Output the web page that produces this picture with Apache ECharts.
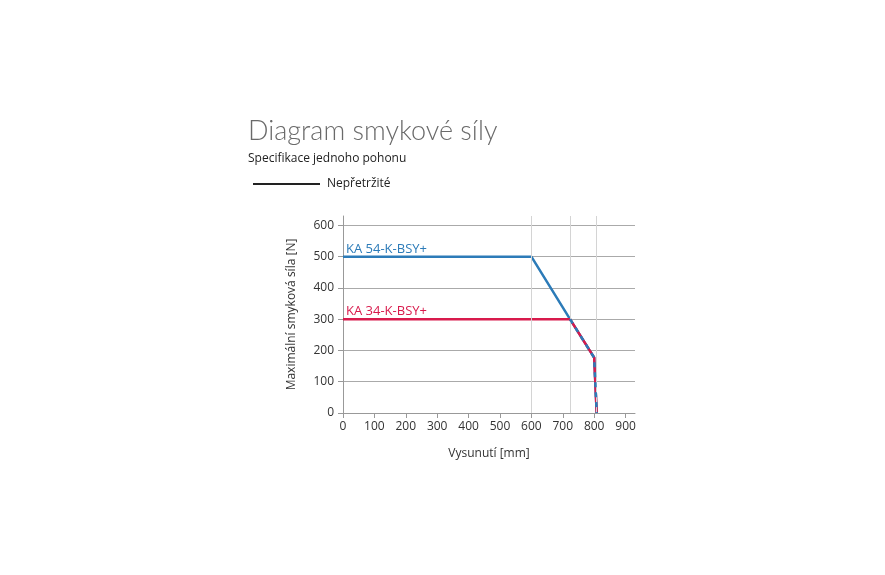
<!DOCTYPE html>
<html>
<head>
<meta charset="utf-8">
<script src="https://cdn.jsdelivr.net/npm/echarts@6/dist/echarts.min.js"></script>
<style>
html, body { margin: 0; padding: 0; background: #fff; }
#chart { width: 885px; height: 575px; }
</style>
</head>
<body>
<div id="chart"></div>
<script>
// Data
var blueName = 'KA 54-K-BSY+';
var redName = 'KA 34-K-BSY+';
var blueX = [0, 600, 723, 800, 808];
var blueY = [500, 500, 300, 177, 0];
var redX = [0, 723, 800, 808];
var redY = [300, 300, 177, 0];
var xTicks = [0, 100, 200, 300, 400, 500, 600, 700, 800, 900];
var yTicks = [0, 100, 200, 300, 400, 500, 600];
var guideX = [600, 723, 805];

var blueColor = '#2c7bb8';
var redColor = '#d81a4c';

function pairs(xs, ys) {
    return xs.map(function (x, i) { return [x, ys[i]]; });
}

var blueData = pairs(blueX, blueY);
var redData = pairs(redX, redY);
// shared part of both curves (from the crossing point on)
var sharedData = redData.slice(1);

function labelled(data, name, color) {
    var out = data.slice();
    out[0] = {
        value: data[0],
        label: {
            show: true,
            formatter: name,
            position: 'top',
            align: 'left',
            distance: 1,
            offset: [3, 0],
            color: color,
            fontSize: 13
        }
    };
    return out;
}

var chart = echarts.init(document.getElementById('chart'));

chart.setOption({
    animation: false,
    textStyle: {
        fontFamily: 'Open Sans, Noto Sans, sans-serif'
    },
    title: [{
        text: 'Diagram smykové síly',
        left: 243,
        top: 113,
        textStyle: {
            fontSize: 27,
            fontWeight: 300,
            color: '#6a6a6a',
            fontFamily: 'Lato, sans-serif'
        }
    }, {
        text: 'Specifikace jednoho pohonu',
        left: 248,
        top: 153,
        padding: 0,
        textStyle: {
            fontSize: 12,
            fontWeight: 'normal',
            color: '#222'
        }
    }],
    legend: {
        left: 253,
        top: 178,
        padding: 0,
        icon: 'rect',
        itemWidth: 67,
        itemHeight: 2,
        itemGap: 10,
        data: ['Nepřetržité'],
        textStyle: { fontSize: 12, color: '#222', padding: [0, 0, 0, 2] }
    },
    grid: {
        left: 343,
        right: 250,
        top: 216,
        bottom: 162
    },
    xAxis: {
        type: 'value',
        min: 0,
        max: 930,
        name: 'Vysunutí [mm]',
        nameLocation: 'middle',
        nameGap: 35,
        nameTextStyle: { fontSize: 12, color: '#333' },
        axisLine: { show: true, lineStyle: { color: '#999', width: 1 } },
        axisTick: { show: true, customValues: xTicks, length: 5, lineStyle: { color: '#999' } },
        axisLabel: { customValues: xTicks, fontSize: 12, color: '#333', margin: 8 },
        splitLine: { show: false }
    },
    yAxis: {
        type: 'value',
        min: 0,
        max: 630,
        name: 'Maximální smyková síla [N]',
        nameLocation: 'middle',
        nameGap: 45,
        nameTextStyle: { fontSize: 12, color: '#333' },
        axisLine: { show: true, lineStyle: { color: '#999', width: 1 } },
        axisTick: { show: true, customValues: yTicks, length: 5, lineStyle: { color: '#999' } },
        axisLabel: { customValues: yTicks, fontSize: 12, color: '#333', margin: 9 },
        splitLine: { show: true, lineStyle: { color: '#aaa', width: 1 } }
    },
    series: [{
        name: 'guides',
        type: 'line',
        data: [],
        silent: true,
        markLine: {
            symbol: 'none',
            silent: true,
            label: { show: false },
            lineStyle: { color: '#d4d4d4', width: 1, type: 'solid' },
            data: guideX.map(function (v) { return { xAxis: v }; })
        }
    }, {
        name: 'Nepřetržité',
        type: 'line',
        data: [],
        symbol: 'none',
        color: '#222',
        lineStyle: { width: 2, color: '#222' }
    }, {
        name: blueName,
        type: 'line',
        data: labelled(blueData, blueName, blueColor),
        symbol: 'circle',
        symbolSize: 0,
        color: blueColor,
        lineStyle: { width: 2.5, color: blueColor },
        z: 3
    }, {
        name: redName,
        type: 'line',
        data: labelled(redData, redName, redColor),
        symbol: 'circle',
        symbolSize: 0,
        color: redColor,
        lineStyle: { width: 2.5, color: redColor },
        z: 4
    }, {
        name: blueName + ' shared',
        type: 'line',
        data: sharedData,
        symbol: 'none',
        color: blueColor,
        lineStyle: { width: 2.5, color: blueColor, type: [5, 5] },
        z: 5
    }]
});
</script>
</body>
</html>
